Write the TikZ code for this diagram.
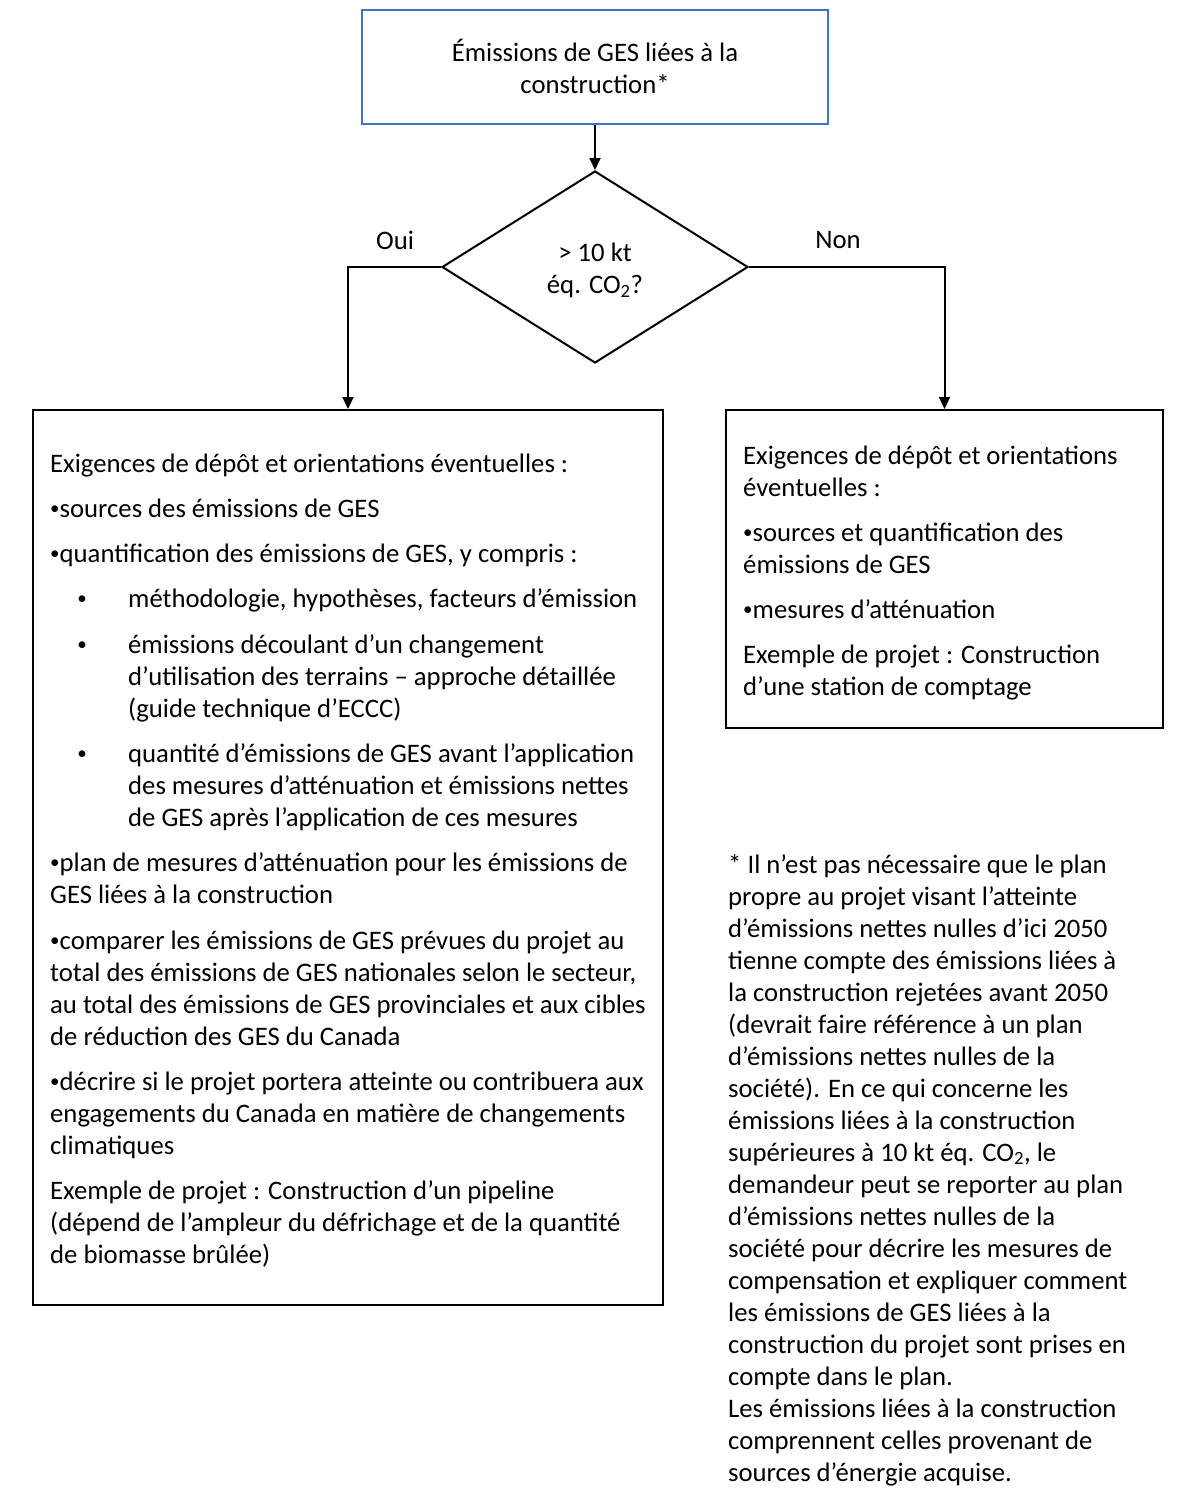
\documentclass[tikz,border=0pt]{standalone}
\usepackage{fontspec}
\setmainfont{Carlito}
\usetikzlibrary{arrows.meta,shapes.geometric}
\definecolor{boxblue}{RGB}{68,114,196}
\newcommand{\smbul}{\raisebox{3pt}{\fontsize{19}{32}\selectfont •}}
\newcommand{\bul}{\makebox[9.5pt][l]{\smbul}}
\begin{document}
\begin{tikzpicture}[x=1pt,y=-1pt,
  txt/.style={inner sep=0pt, anchor=base west, align=left, font=\fontsize{26.7}{32}\selectfont},
  ctxt/.style={inner sep=0pt, anchor=base, align=center, font=\fontsize{26.7}{32}\selectfont},
  box/.style={draw=black, line width=2pt, inner sep=0pt},
  arr/.style={-{Triangle[length=12pt,width=11pt]}, line width=2pt}]
\useasboundingbox (0,0) rectangle (1200,1510);
\fill[white] (0,0) rectangle (1200,1510);

% boxes
\node[box, draw=boxblue, minimum width=466pt, minimum height=114pt] (top) at (595,67) {};
\node[box, shape=diamond, minimum width=306pt, minimum height=192pt] (dia) at (595,267) {};
\node[box, minimum width=630pt, minimum height=895pt] (lbox) at (348,857.5) {};
\node[box, minimum width=437pt, minimum height=318pt] (rbox) at (944.5,569) {};

% connectors
\draw[arr] (top.south) -- (dia.north);
\draw[arr] (dia.west) -| (lbox.north);
\draw[arr] (dia.east) -| (rbox.north);

\begin{scope}[yshift=-1.5pt]
% labels (anchor = baseline of the last line)
\node[ctxt] (ttop) at (595,92) {Émissions de GES liées à la\\construction*};
\node[ctxt] (tdia) at (595,292) {> 10 kt\\éq. CO\textsubscript{2}?};
\node[ctxt] (oui) at (395,248) {Oui};
\node[ctxt] (non) at (838,247) {Non};

% left box text
\node[txt] (l1) at (50,470.5) {Exigences de dépôt et orientations éventuelles :};
\node[txt] (l2) at (50,515.5) {\bul sources des émissions de GES};
\node[txt] (l3) at (50,560.5) {\bul quantification des émissions de GES, y compris :};
\node[ctxt] (b1) at (82,605.5) {\smbul};
\node[txt] (s1) at (128,605.5) {méthodologie, hypothèses, facteurs d’émission};
\node[ctxt] (b2) at (82,651.5) {\smbul};
\node[txt] (s2) at (128,715.5) {émissions découlant d’un changement\\d’utilisation des terrains – approche détaillée\\(guide technique d’ECCC)};
\node[ctxt] (b3) at (82,760.5) {\smbul};
\node[txt] (s3) at (128,824.5) {quantité d’émissions de GES avant l’application\\des mesures d’atténuation et émissions nettes\\de GES après l’application de ces mesures};
\node[txt] (l4) at (50,901.5) {\bul plan de mesures d’atténuation pour les émissions de\\GES liées à la construction};
\node[txt] (l5) at (50,1043.5) {\bul comparer les émissions de GES prévues du projet au\\total des émissions de GES nationales selon le secteur,\\au total des émissions de GES provinciales et aux cibles\\de réduction des GES du Canada};
\node[txt] (l6) at (50,1152.5) {\bul décrire si le projet portera atteinte ou contribuera aux\\engagements du Canada en matière de changements\\climatiques};
\node[txt] (l7) at (50,1261.5) {Exemple de projet : Construction d’un pipeline\\(dépend de l’ampleur du défrichage et de la quantité\\de biomasse brûlée)};

% right box text
\node[txt] (r1) at (743,494.5) {Exigences de dépôt et orientations\\éventuelles :};
\node[txt] (r2) at (743,571.5) {\bul sources et quantification des\\émissions de GES};
\node[txt] (r3) at (743,616.5) {\bul mesures d’atténuation};
\node[txt] (r4) at (743,693.5) {Exemple de projet : Construction\\d’une station de comptage};

% footnote
\node[txt] (fn) at (728,1479.5) {* Il n’est pas nécessaire que le plan\\propre au projet visant l’atteinte\\d’émissions nettes nulles d’ici 2050\\tienne compte des émissions liées à\\la construction rejetées avant 2050\\(devrait faire référence à un plan\\d’émissions nettes nulles de la\\société). En ce qui concerne les\\émissions liées à la construction\\supérieures à 10 kt éq. CO\textsubscript{2}, le\\demandeur peut se reporter au plan\\d’émissions nettes nulles de la\\société pour décrire les mesures de\\compensation et expliquer comment\\les émissions de GES liées à la\\construction du projet sont prises en\\compte dans le plan.\\Les émissions liées à la construction\\comprennent celles provenant de\\sources d’énergie acquise.};
\end{scope}
\end{tikzpicture}
\end{document}
